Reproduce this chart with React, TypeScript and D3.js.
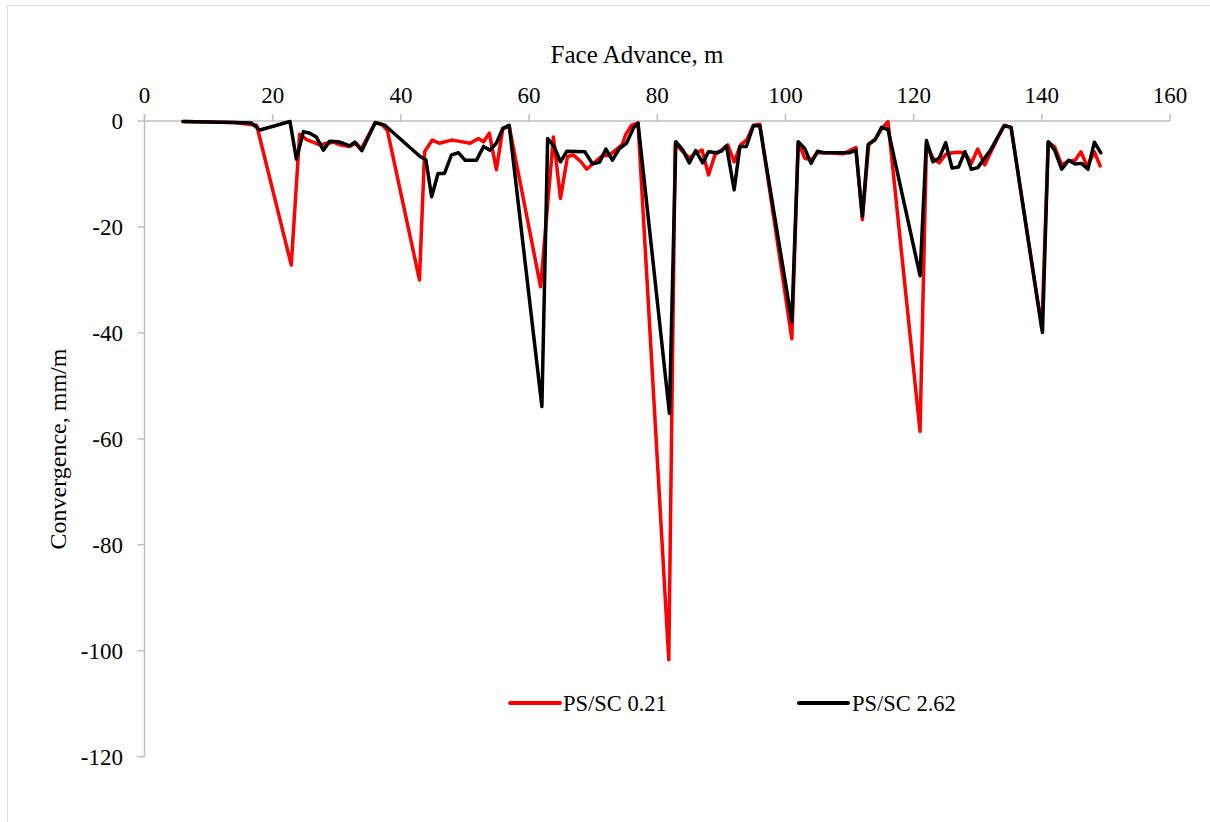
import React from "react";
import * as d3 from "d3";

// Face advance (m) and convergence (mm/m) for each support case
const redX = [6, 10, 14, 17.5, 22.9, 24.2, 25.3, 26.3, 27.3, 28.5, 29.5, 30.5, 32, 33, 33.8, 36, 37, 37.9, 42.9, 43.7, 44.9, 46, 47.9, 49, 50.8, 52.1, 52.9, 53.8, 54.9, 55.9, 56.9, 61.8, 63.8, 64.9, 66, 66.9, 68.1, 69, 70.3, 71.5, 72.5, 73.5, 74.5, 75.1, 76, 77, 81.8, 82.8, 84, 85, 86, 87, 88, 89, 90, 91, 92, 93, 94, 95, 96, 101, 102, 103, 104, 105, 107, 109, 111, 112, 113, 114, 115, 116, 121, 122, 123, 124, 125, 126, 127, 128, 129, 130, 131.1, 132, 133.2, 134.2, 135.2, 140, 141, 142, 143.1, 144.1, 145.2, 146.1, 147.1, 148.2, 149.1];
const redY = [-0.1, -0.2, -0.3, -0.8, -27.2, -2.5, -3.5, -4, -4.5, -4.2, -4, -4.5, -4.8, -4.2, -5.3, -0.3, -0.6, -1.8, -30, -5.8, -3.6, -4.2, -3.6, -3.8, -4.2, -3.3, -3.9, -2.3, -9.2, -1.5, -1.0, -31.3, -3.0, -14.6, -6.7, -6.4, -7.7, -9.1, -7.7, -6.5, -6.5, -5.5, -4.5, -2.5, -0.8, -0.4, -101.7, -4.3, -5.8, -7, -6, -5.5, -10.2, -6.4, -5.5, -4.5, -7.7, -4.5, -3.5, -0.8, -0.6, -41.1, -4, -7, -7.4, -6, -6, -6.2, -5, -18.6, -4.3, -3.5, -1.5, -0.1, -58.6, -4.3, -7, -7.9, -6.3, -6, -5.9, -6, -8, -5.3, -8.3, -6, -3, -0.8, -1.2, -39.3, -4, -4.9, -8.3, -7.6, -7.4, -5.8, -8.6, -5.8, -8.5];

const blackX = [6, 10, 14, 16.7, 18, 22.7, 23.7, 24.8, 25.8, 26.8, 27.9, 28.9, 30.2, 31, 32, 32.8, 33.9, 36, 37.5, 43, 43.9, 44.8, 45.8, 46.8, 47.9, 49, 50, 51.8, 52.9, 53.9, 54.9, 55.9, 56.9, 62, 62.9, 63.9, 64.9, 65.9, 68.7, 69.9, 71, 72, 73, 74.1, 75.2, 76.3, 77, 81.9, 82.9, 84, 85, 86, 87.1, 88, 89.2, 90, 90.8, 92, 92.9, 93.9, 95, 96, 101, 102, 103, 104, 105, 106, 108, 110, 111, 112, 112.9, 114, 115, 116, 121, 122, 123, 124, 125, 126, 127, 128, 129, 130, 132, 134.1, 135.2, 140.1, 141, 142, 143.1, 144.2, 145.2, 146.2, 147.2, 148.2, 149.2];
const blackY = [-0.1, -0.2, -0.3, -0.4, -1.7, -0.1, -7.2, -2.0, -2.3, -3.0, -5.5, -3.8, -3.9, -4.2, -4.7, -4.0, -5.6, -0.3, -0.8, -6.7, -7.3, -14.3, -9.9, -9.9, -6.4, -6.0, -7.4, -7.4, -4.8, -5.5, -4.2, -1.4, -0.8, -53.9, -3.3, -4.8, -7.7, -5.7, -5.8, -8.1, -7.8, -5.3, -7.4, -5.2, -4.2, -1.3, -0.4, -55.2, -3.9, -5.5, -7.9, -5.6, -7.9, -5.8, -6.0, -5.7, -4.7, -13.0, -4.8, -4.8, -0.9, -0.9, -37.9, -3.9, -5.2, -8.0, -5.7, -6.0, -6.0, -6.0, -5.5, -18.0, -4.5, -3.5, -1.2, -1.6, -29.2, -3.7, -7.7, -7.0, -4.1, -8.9, -8.7, -5.8, -9.1, -8.8, -5.5, -0.9, -1.2, -39.9, -3.9, -5.5, -9.1, -7.4, -8.1, -8.0, -9.1, -4.0, -6.0];

const xTicks = [0, 20, 40, 60, 80, 100, 120, 140, 160];
const yTicks = [0, -20, -40, -60, -80, -100, -120];

const seriesNames = ["PS/SC 0.21", "PS/SC 2.62"];
const seriesColors = ["#ff0000", "#000000"];

const W = 1210;
const H = 822;
const FONT = "'Liberation Serif', 'Times New Roman', serif";

export default function App() {
  const x = d3.scaleLinear().domain([0, 160]).range([144.5, 1170]);
  const y = d3.scaleLinear().domain([0, -120]).range([121, 756.7]);

  const line = d3
    .line<[number, number]>()
    .x((d) => x(d[0]))
    .y((d) => y(d[1]));

  const redPts: [number, number][] = redX.map((v, i) => [v, redY[i]]);
  const blackPts: [number, number][] = blackX.map((v, i) => [v, blackY[i]]);
  const series = [redPts, blackPts];

  const axisColor = "#bfbfbf";
  const legendItems = [
    { x1: 510, x2: 560, tx: 563 },
    { x1: 799, x2: 848, tx: 852 },
  ];

  return (
    <svg
      width={W}
      height={H}
      style={{ position: "absolute", left: 0, top: 0, background: "#fff" }}
      fontFamily={FONT}
    >
      <rect x={7.5} y={5.5} width={1240} height={840} fill="#fff" stroke="#d9d9d9" strokeWidth={1} />

      {/* x axis along the zero line, ticks pointing up */}
      <line x1={x(0)} x2={x(160)} y1={y(0)} y2={y(0)} stroke={axisColor} strokeWidth={1.5} />
      {xTicks.map((t) => (
        <g key={"xt" + t}>
          <line x1={x(t)} x2={x(t)} y1={y(0) - 7} y2={y(0)} stroke={axisColor} strokeWidth={1.5} />
          <text x={x(t)} y={103} textAnchor="middle" fontSize={23} fill="#000">
            {t}
          </text>
        </g>
      ))}

      {/* y axis */}
      <line x1={x(0)} x2={x(0)} y1={y(0) - 7} y2={y(-120)} stroke={axisColor} strokeWidth={1.5} />
      {yTicks.map((t) => (
        <g key={"yt" + t}>
          <line x1={x(0) - 7} x2={x(0)} y1={y(t)} y2={y(t)} stroke={axisColor} strokeWidth={1.5} />
          <text x={123} y={y(t) + 8} textAnchor="end" fontSize={23} fill="#000">
            {t}
          </text>
        </g>
      ))}

      <text x={637} y={63} textAnchor="middle" fontSize={25} fill="#000">
        Face Advance, m
      </text>
      <text
        transform="translate(66, 449) rotate(-90)"
        textAnchor="middle"
        fontSize={24}
        fill="#000"
      >
        Convergence, mm/m
      </text>

      {series.map((pts, i) => (
        <path
          key={"s" + i}
          d={line(pts) || ""}
          fill="none"
          stroke={seriesColors[i]}
          strokeWidth={3.5}
          strokeLinejoin="round"
          strokeLinecap="round"
        />
      ))}

      {legendItems.map((l, i) => (
        <g key={"lg" + i}>
          <line x1={l.x1} x2={l.x2} y1={703} y2={703} stroke={seriesColors[i]} strokeWidth={4} strokeLinecap="round" />
          <text x={l.tx} y={711} fontSize={22.5} fill="#000">
            {seriesNames[i]}
          </text>
        </g>
      ))}
    </svg>
  );
}
